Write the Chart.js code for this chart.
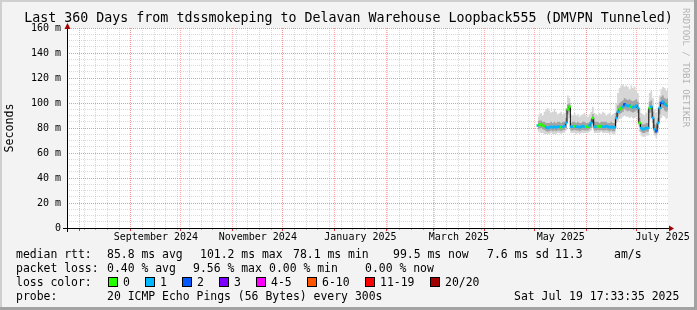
<!DOCTYPE html>
<html>
<head>
<meta charset="utf-8">
<script src="https://cdn.jsdelivr.net/npm/chart.js@4/dist/chart.umd.min.js"></script>
<style>
  body { margin: 0; background: #f3f3f3; }
  #wrap { position: relative; width: 697px; height: 310px; overflow: hidden; font-family: "DejaVu Sans Mono", monospace; color: #000; }
  #wrap canvas { position: absolute; left: 0; top: 0; }
  .txt { position: absolute; white-space: pre; font-size: 11.45px; line-height: 14px; }
  .title { position: absolute; left: 0; width: 697px; top: 10px; text-align: center; font-size: 13.3px; line-height: 16px; white-space: pre; }
  .brand { position: absolute; left: 681px; top: 8px; writing-mode: vertical-rl; font-size: 9px; color: #b4b4b4; white-space: pre; }
  .box { position: absolute; width: 8px; height: 8px; border: 1px solid #000; }
</style>
</head>
<body>
<div id="wrap">
  <canvas id="chart" width="697" height="310"></canvas>
  <div class="title">Last 360 Days from tdssmokeping to Delavan Warehouse Loopback555 (DMVPN Tunneled)</div>
  <div class="brand">RRDTOOL / TOBI OETIKER</div>
  <div id="legend"></div>
</div>
<script>
// x values are days since the start of the 360 day window
const days = [
  282, 283, 284, 285, 286, 287, 288, 289, 290, 291,
  292, 293, 294, 295, 296, 297, 298, 299, 300, 301,
  302, 303, 304, 305, 306, 307, 308, 309, 310, 311,
  312, 313, 314, 315, 316, 317, 318, 319, 320, 321,
  322, 323, 324, 325, 326, 327, 328, 329, 330, 331,
  332, 333, 334, 335, 336, 337, 338, 339, 340, 341,
  342, 343, 344, 345, 346, 347, 348, 349, 350, 351,
  352, 353, 354, 355, 356, 357, 358, 359, 360
];
// median rtt in ms
const medianRtt = [
  82, 82.5, 83, 82, 81.5, 80.5, 80, 80.5, 81, 80.5,
  81, 80.5, 81, 81, 80.5, 81, 81.5, 84, 95, 97,
  81, 81, 81.5, 81, 81, 80.5, 81, 81.5, 81, 81,
  81, 82, 84, 88, 81, 81, 81.5, 81, 81.5, 81,
  81, 81.5, 81, 80.5, 81, 80.5, 80.5, 88, 93, 95,
  96, 97, 99, 98, 97.5, 98, 97, 96.5, 97, 98,
  96, 84, 80, 79, 79.5, 80, 80, 96, 97, 88,
  79, 77.5, 84, 96, 100, 101, 99, 98, 99.5
];
// lost pings out of 20
const lossCount = [
  1, 0, 0, 0, 0, 1, 1, 1, 1, 1,
  1, 1, 1, 1, 0, 1, 1, 1, 0, 0,
  1, 1, 0, 1, 1, 1, 1, 1, 1, 0,
  0, 1, 1, 0, 1, 1, 0, 0, 0, 1,
  1, 1, 1, 1, 1, 1, 1, 1, 1, 0,
  0, 1, 2, 1, 1, 1, 0, 1, 1, 1,
  1, 0, 1, 1, 1, 1, 1, 0, 1, 1,
  1, 2, 1, 1, 2, 1, 1, 1, 0
];
// smoke: spread of the 20 pings
const smokeOuterHi = [
  89, 91, 92, 90, 93, 95, 96, 94, 92, 93,
  95, 93, 91, 92, 93, 91, 92, 96, 106, 104,
  91, 90, 92, 90, 91, 89, 90, 91, 92, 90,
  89, 91, 93, 97, 92, 91, 90, 92, 91, 93,
  92, 90, 91, 92, 90, 91, 92, 100, 108, 112,
  114, 115, 113, 114, 113, 111, 114, 112, 113, 110,
  108, 96, 92, 91, 90, 92, 94, 108, 110, 104,
  95, 92, 96, 106, 111, 113, 112, 110, 112
];
const smokeOuterLo = [
  77, 77, 76, 76, 75, 75, 75, 75, 76, 75,
  75, 75, 76, 76, 75, 76, 76, 78, 86, 88,
  76, 76, 76, 75, 76, 75, 76, 76, 76, 76,
  76, 77, 78, 80, 76, 76, 76, 76, 77, 76,
  76, 76, 76, 75, 76, 75, 75, 80, 85, 87,
  88, 89, 90, 89, 89, 88, 89, 88, 88, 89,
  86, 77, 74, 73, 73, 74, 74, 86, 88, 80,
  74, 72, 76, 86, 88, 90, 89, 87, 88
];
const smokeInnerHi = [
  85, 86, 86, 85, 85, 84, 84, 84, 85, 84,
  85, 84, 85, 85, 84, 85, 85, 88, 99, 100,
  84, 85, 85, 84, 85, 84, 84, 85, 85, 84,
  84, 85, 87, 91, 85, 85, 85, 84, 85, 85,
  85, 85, 84, 84, 85, 84, 84, 92, 98, 100,
  101, 102, 104, 103, 102.5, 103, 102, 101.5, 102, 103,
  101, 88, 84, 83, 83, 84, 84, 101, 102, 93,
  83, 82, 88, 101, 105, 106, 104, 103, 104
];
const smokeInnerLo = [
  79, 79.5, 80, 79, 78.5, 77.5, 77, 77.5, 78, 77.5,
  78, 77.5, 78, 78, 77.5, 78, 78.5, 80, 91, 93,
  78, 78, 78.5, 78, 78, 77.5, 78, 78.5, 78, 78,
  78, 79, 80, 84, 78, 78, 78.5, 78, 78.5, 78,
  78, 78.5, 78, 77.5, 78, 77.5, 77.5, 84, 89, 91,
  92, 93, 95, 94, 93.5, 94, 93, 92.5, 93, 94,
  92, 81, 77, 76, 76, 77, 77, 92, 93, 84,
  76, 75, 80, 91, 95, 96, 94, 93, 94
];

const lossLabels = ['0', '1', '2', '3', '4-5', '6-10', '11-19', '20/20'];
const lossColors = ['#26ff00', '#00b8ff', '#0059ff', '#7e00ff', '#ff00ff', '#ff5500', '#ff0000', '#a10000'];

const xTickLabels = ['September 2024', 'November 2024', 'January 2025', 'March 2025', 'May 2025', 'July 2025'];
const xTickMonths = [[2024, 8], [2024, 10], [2025, 0], [2025, 2], [2025, 4], [2025, 6]];
const yTicks = [0, 20, 40, 60, 80, 100, 120, 140, 160];

// time helpers: the window ends Jul 19 2025 17:33
const endTime = new Date(2025, 6, 19, 17, 33, 35).getTime();
const startTime = endTime - 360 * 86400000;
const dayOf = d => (d.getTime() - startTime) / 86400000;

const monthStarts = [];
for (let m = new Date(2024, 7, 1); m.getTime() < endTime; m = new Date(m.getFullYear(), m.getMonth() + 1, 1)) {
  monthStarts.push(dayOf(m));
}
const weekStarts = [];
for (let w = new Date(2024, 7, 4); w.getTime() < endTime; w = new Date(w.getFullYear(), w.getMonth(), w.getDate() + 7)) {
  weekStarts.push(dayOf(w));
}
const labelDays = xTickMonths.map(([y, m]) => (dayOf(new Date(y, m, 1)) + dayOf(new Date(y, m + 1, 1))) / 2);

const pts = arr => days.map((d, i) => ({ x: d, y: arr[i] }));

// legend block below the plot
const legend = document.getElementById('legend');
const addText = (x, top, s) => {
  const el = document.createElement('div');
  el.className = 'txt';
  el.style.left = x + 'px';
  el.style.top = top + 'px';
  el.textContent = s;
  legend.appendChild(el);
};
[[16, 'median rtt:'], [107, '85.8 ms avg'], [200, '101.2 ms max'], [293, '78.1 ms min'],
 [393, '99.5 ms now'], [487, '7.6 ms sd'], [555, '11.3'], [614, 'am/s']].forEach(([x, s]) => addText(x, 247, s));
[[16, 'packet loss:'], [107, '0.40 % avg'], [193, '9.56 % max'], [269, '0.00 % min'], [365, '0.00 % now']]
  .forEach(([x, s]) => addText(x, 261, s));
addText(16, 275, 'loss color:');
const boxX = [108, 145, 182, 219, 256, 307, 365, 430];
lossLabels.forEach((lab, i) => {
  const b = document.createElement('div');
  b.className = 'box';
  b.style.left = boxX[i] + 'px';
  b.style.top = '277px';
  b.style.background = lossColors[i];
  legend.appendChild(b);
  addText(boxX[i] + 15, 275, lab);
});
addText(16, 289, 'probe:');
addText(107, 289, '20 ICMP Echo Pings (56 Bytes) every 300s');
addText(514, 289, 'Sat Jul 19 17:33:35 2025');

const framePlugin = {
  id: 'framePlugin',
  beforeDraw(chart) {
    const { ctx, chartArea: a, width, height } = chart;
    ctx.save();
    ctx.fillStyle = '#f3f3f3';
    ctx.fillRect(0, 0, width, height);
    ctx.fillStyle = '#cfcfcf';
    ctx.fillRect(0, 0, width, 2);
    ctx.fillRect(0, 0, 2, height);
    ctx.fillStyle = '#a2a2a2';
    ctx.fillRect(width - 3, 0, 3, height);
    ctx.fillRect(0, height - 3, width, 3);
    ctx.fillStyle = '#ffffff';
    ctx.fillRect(a.left, a.top, a.right - a.left, a.bottom - a.top);
    ctx.restore();
  },
  afterDraw(chart) {
    const { ctx, chartArea: a } = chart;
    const x0 = Math.round(a.left) + 0.5;
    const y0 = Math.round(a.bottom) + 0.5;
    ctx.save();
    ctx.strokeStyle = '#000';
    ctx.lineWidth = 1;
    ctx.beginPath();
    ctx.moveTo(a.left - 4, y0);
    ctx.lineTo(a.right + 2, y0);
    ctx.moveTo(x0, a.bottom + 4);
    ctx.lineTo(x0, a.top - 2);
    ctx.stroke();
    ctx.fillStyle = '#a00000';
    ctx.beginPath();
    ctx.moveTo(a.right + 6, y0);
    ctx.lineTo(a.right + 1, y0 - 3);
    ctx.lineTo(a.right + 1, y0 + 3);
    ctx.closePath();
    ctx.fill();
    ctx.beginPath();
    ctx.moveTo(x0, a.top - 5);
    ctx.lineTo(x0 - 3, a.top + 1);
    ctx.lineTo(x0 + 3, a.top + 1);
    ctx.closePath();
    ctx.fill();
    ctx.restore();
  }
};

Chart.defaults.font.family = '"DejaVu Sans Mono", monospace';
Chart.defaults.color = '#000';

const majorGrid = 'rgba(255, 70, 70, 0.45)';
const minorGrid = 'rgba(150, 150, 150, 0.35)';

new Chart(document.getElementById('chart').getContext('2d'), {
  type: 'line',
  data: {
    datasets: [{
      data: pts(smokeOuterHi), order: 6,
      xAxisID: 'x', yAxisID: 'y',
      borderWidth: 0, pointRadius: 0, fill: false, stepped: 'middle'
    }, {
      data: pts(smokeOuterLo), order: 5,
      xAxisID: 'x', yAxisID: 'y',
      borderWidth: 0, pointRadius: 0, fill: '-1', backgroundColor: '#d6d6d6', stepped: 'middle'
    }, {
      data: pts(smokeInnerHi), order: 4,
      xAxisID: 'x', yAxisID: 'y',
      borderWidth: 0, pointRadius: 0, fill: false, stepped: 'middle'
    }, {
      data: pts(smokeInnerLo), order: 3,
      xAxisID: 'x', yAxisID: 'y',
      borderWidth: 0, pointRadius: 0, fill: '-1', backgroundColor: '#a4a4a4', stepped: 'middle'
    }, {
      data: pts(medianRtt), order: 2,
      xAxisID: 'x', yAxisID: 'y',
      borderColor: '#000', borderWidth: 1, pointRadius: 0, fill: false, stepped: 'middle'
    }, {
      data: pts(medianRtt), order: 1,
      xAxisID: 'x', yAxisID: 'y',
      showLine: false, fill: false,
      pointStyle: 'rect', pointRadius: 1.8, pointBorderWidth: 0,
      pointBackgroundColor: lossCount.map(l => lossColors[l])
    }]
  },
  options: {
    responsive: false,
    animation: false,
    devicePixelRatio: 1,
    layout: { padding: { left: 0, right: 29, top: 28, bottom: 68 } },
    plugins: { legend: { display: false }, tooltip: { enabled: false }, title: { display: false } },
    scales: {
      x: {
        type: 'linear', position: 'bottom', min: 0, max: 360,
        afterBuildTicks: s => { s.ticks = labelDays.map(v => ({ value: v })); },
        afterFit: s => { s.height = 14; },
        grid: { display: false, drawTicks: false },
        border: { display: false },
        ticks: {
          autoSkip: false, maxRotation: 0, padding: 3,
          font: { size: 10 },
          callback: (v, i) => xTickLabels[i]
        }
      },
      xWeek: {
        type: 'linear', position: 'bottom', min: 0, max: 360, weight: -2,
        afterBuildTicks: s => { s.ticks = weekStarts.map(v => ({ value: v })); },
        afterFit: s => { s.height = 0; },
        grid: { color: minorGrid, tickLength: 2, tickColor: '#aaa', z: -2 },
        border: { display: false, dash: [1, 1] },
        ticks: { display: false }
      },
      xMonth: {
        type: 'linear', position: 'bottom', min: 0, max: 360, weight: -1,
        afterBuildTicks: s => { s.ticks = monthStarts.map(v => ({ value: v })); },
        afterFit: s => { s.height = 0; },
        grid: { color: majorGrid, tickLength: 3, tickColor: '#e03030', z: -1 },
        border: { display: false, dash: [1, 1] },
        ticks: { display: false }
      },
      y: {
        type: 'linear', position: 'left', min: 0, max: 160,
        afterBuildTicks: s => { s.ticks = yTicks.map(v => ({ value: v })); },
        afterFit: s => { s.width = 67; },
        grid: { color: majorGrid, drawTicks: false, z: -1 },
        border: { display: false, dash: [1, 1] },
        title: { display: true, text: 'Seconds', font: { size: 11.6 }, padding: { top: 3, bottom: 0 } },
        ticks: {
          padding: 6, font: { size: 10 },
          callback: v => (v === 0 ? '0' : v + ' m')
        }
      },
      yMinor: {
        type: 'linear', position: 'left', min: 0, max: 160, weight: -1,
        afterBuildTicks: s => {
          const t = [];
          for (let v = 0; v <= 160; v += 5) t.push({ value: v });
          s.ticks = t;
        },
        afterFit: s => { s.width = 0; },
        grid: { color: minorGrid, drawTicks: false, z: -2 },
        border: { display: false, dash: [1, 1] },
        ticks: { display: false }
      }
    }
  },
  plugins: [framePlugin]
});
</script>
</body>
</html>
